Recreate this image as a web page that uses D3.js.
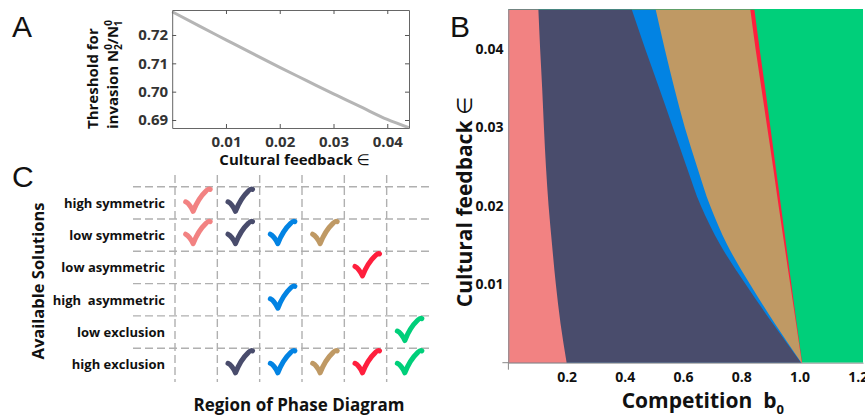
<!DOCTYPE html>
<html>
<head>
<meta charset="utf-8">
<script src="https://cdn.jsdelivr.net/npm/d3@7"></script>
<style>
body{margin:0;background:#fff;}
text{font-family:"Open Sans","DejaVu Sans",sans-serif;}
</style>
</head>
<body>
<div id="chart"></div>
<script>
// ---- panel A : invasion threshold vs cultural feedback
var epsA = [0, 0.005, 0.01, 0.015, 0.02, 0.025, 0.03, 0.035, 0.04, 0.044];
var thresholdA = [0.7282, 0.7232, 0.7183, 0.7134, 0.7086, 0.7039, 0.6992, 0.6947, 0.6902, 0.6873];
var ticksAx = [0.01, 0.02, 0.03, 0.04];
var ticksAy = [0.69, 0.70, 0.71, 0.72];

// ---- panel B : phase diagram, boundary b0 for each eps
var epsB  = [0, 0.005, 0.01, 0.015, 0.02, 0.025, 0.03, 0.035, 0.04, 0.045];
var bPink = [0.200, 0.179, 0.163, 0.150, 0.138, 0.129, 0.122, 0.116, 0.109, 0.103];
var bNavy = [1.005, 0.908, 0.815, 0.728, 0.661, 0.612, 0.565, 0.518, 0.470, 0.424];
var bBlue = [1.006, 0.915, 0.830, 0.752, 0.693, 0.648, 0.606, 0.570, 0.537, 0.506];
var bTan  = [1.008, 0.988, 0.968, 0.948, 0.928, 0.909, 0.889, 0.869, 0.849, 0.831];
var bRed  = [1.009, 0.990, 0.972, 0.954, 0.936, 0.918, 0.900, 0.882, 0.863, 0.845];
var ticksBx = [0.2, 0.4, 0.6, 0.8, 1.0, 1.2];
var ticksBy = [0.01, 0.02, 0.03, 0.04];

// ---- panel C : available solutions per region
var solutions = ["high symmetric", "low symmetric", "low asymmetric", "high  asymmetric", "low exclusion", "high exclusion"];
var regionColors = ["#f28282", "#494c6c", "#0283e3", "#bf9964", "#ff1f3d", "#00cf7a"];
var checks = [
  [1,1,0,0,0,0],
  [1,1,1,1,0,0],
  [0,0,0,0,1,0],
  [0,0,1,0,0,0],
  [0,0,0,0,0,1],
  [0,1,1,1,1,1]
];

var svg = d3.select("#chart").append("svg")
  .attr("width", 865).attr("height", 420)
  .style("background", "#fff");

// panel letters
svg.selectAll(".letter")
  .data([["A",12,37],["B",450,37],["C",12,187]])
  .enter().append("text")
  .attr("x", function(d){return d[1];})
  .attr("y", function(d){return d[2];})
  .style("font-family", "'Liberation Sans', Arial, sans-serif")
  .style("font-size", "30px")
  .attr("fill", "#111")
  .text(function(d){return d[0];});

/*********************
 * panel A
 **********************/
var xA = d3.scaleLinear().domain([0, 0.04404]).range([172.2, 409]);
var yA = d3.scaleLinear().domain([0.68718, 0.72882]).range([128, 10]);

var gA = svg.append("g").attr("class", "panelA");

gA.append("path")
  .datum(epsA.map(function(e,i){return [e, thresholdA[i]];}))
  .attr("fill", "none")
  .attr("stroke", "#b5b5b5")
  .attr("stroke-width", 3)
  .attr("d", d3.line()
    .x(function(d){return xA(d[0]);})
    .y(function(d){return yA(d[1]);})
    .curve(d3.curveMonotoneX));

var axA = [
  [d3.axisBottom(xA).tickValues(ticksAx).tickSize(-4).tickPadding(8).tickFormat(d3.format(".2f")), "translate(0,128)"],
  [d3.axisLeft(yA).tickValues(ticksAy).tickSize(-4).tickPadding(4).tickFormat(d3.format(".2f")), "translate(172.2,0)"],
  [d3.axisTop(xA).tickValues(ticksAx).tickSize(-4).tickFormat(""), "translate(0,10)"],
  [d3.axisRight(yA).tickValues(ticksAy).tickSize(-4).tickFormat(""), "translate(409,0)"]
];
axA.forEach(function(a){
  var g = gA.append("g").attr("transform", a[1]).call(a[0].tickSizeOuter(0));
  g.select(".domain").attr("stroke", "#666");
  g.selectAll(".tick line").attr("stroke", "#555");
  g.selectAll("text")
    .style("font-family", "'Open Sans', sans-serif")
    .style("font-size", "15px")
    .style("font-weight", "bold")
    .attr("fill", "#333");
});

gA.append("text")
  .attr("x", 294.5).attr("y", 165)
  .attr("text-anchor", "middle")
  .style("font-size", "15px").style("font-weight", "bold")
  .attr("fill", "#111")
  .text("Cultural feedback ")
  .append("tspan").style("font-weight", "normal").style("font-family", "'DejaVu Sans', sans-serif").text("\u2208");

gA.append("text")
  .attr("transform", "translate(98,129) rotate(-90)")
  .style("font-size", "15px").style("font-weight", "bold")
  .attr("fill", "#111")
  .text("Threshold for");

var lab2 = gA.append("text")
  .attr("transform", "translate(117.5,129) rotate(-90)")
  .style("font-size", "15px").style("font-weight", "bold")
  .attr("fill", "#111");
lab2.append("tspan").text("invasion N");
lab2.append("tspan").attr("dy", -6).style("font-size", "10px").text("0");
lab2.append("tspan").attr("dx", -6).attr("dy", 10).style("font-size", "10px").text("2");
lab2.append("tspan").attr("dy", -4).text("/N");
lab2.append("tspan").attr("dy", -6).style("font-size", "10px").text("0");
lab2.append("tspan").attr("dx", -6).attr("dy", 10).style("font-size", "10px").text("1");

/*********************
 * panel B
 **********************/
var xB = d3.scaleLinear().domain([0, 1.218]).range([508.4, 863]);
var yB = d3.scaleLinear().domain([0, 0.0451]).range([362.7, 9]);

var gB = svg.append("g").attr("class", "panelB");

// green background, then each region from the left edge on top (no seams)
gB.append("rect")
  .attr("x", xB(0)).attr("y", yB(0.0451))
  .attr("width", xB(1.218) - xB(0)).attr("height", yB(0) - yB(0.0451))
  .attr("fill", regionColors[5]);

var layers = [[bRed, regionColors[4]], [bTan, regionColors[3]], [bBlue, regionColors[2]], [bNavy, regionColors[1]], [bPink, regionColors[0]]];
var areaB = d3.area()
  .y(function(d){return yB(d[0]);})
  .x0(xB(0))
  .x1(function(d){return xB(d[1]);})
  .curve(d3.curveMonotoneY);

gB.selectAll(".region")
  .data(layers)
  .enter().append("path")
  .attr("class", "region")
  .attr("fill", function(d){return d[1];})
  .attr("d", function(d){
    return areaB(epsB.map(function(e,i){return [e, d[0][i]];}));
  });

var axBx = gB.append("g").attr("transform", "translate(0,362.7)")
  .call(d3.axisBottom(xB).tickValues(ticksBx).tickSize(0).tickSizeOuter(0).tickPadding(9).tickFormat(d3.format(".1f")));
var axBy = gB.append("g").attr("transform", "translate(508.4,0)")
  .call(d3.axisLeft(yB).tickValues(ticksBy).tickSize(0).tickSizeOuter(0).tickPadding(5).tickFormat(d3.format(".2f")));
[axBx, axBy].forEach(function(g){
  g.select(".domain").attr("stroke", "#999").attr("stroke-width", 1);
  g.selectAll("text")
    .style("font-family", "'Open Sans', sans-serif")
    .style("font-size", "14px")
    .style("font-weight", "bold")
    .attr("fill", "#111");
});
// corner ticks at origin
gB.append("path")
  .attr("stroke", "#888").attr("fill", "none")
  .attr("d", "M" + (xB(0) - 6) + "," + yB(0) + "H" + xB(0) + "M" + xB(0) + "," + yB(0) + "V" + (yB(0) + 7));

var xlabB = gB.append("text")
  .attr("x", 621.7).attr("y", 407.5)
  .style("font-size", "21px").style("font-weight", "bold")
  .attr("fill", "#111")
  .attr("xml:space", "preserve");
xlabB.append("tspan").text("Competition\u00a0\u00a0b");
xlabB.append("tspan").attr("dy", 6).style("font-size", "13px").text("0");

gB.append("text")
  .attr("transform", "translate(472,202) rotate(-90)")
  .attr("text-anchor", "middle")
  .style("font-size", "21px").style("font-weight", "bold")
  .attr("fill", "#111")
  .text("Cultural feedback ")
  .append("tspan").style("font-weight", "normal").style("font-family", "'DejaVu Sans', sans-serif").text("\u2208");

/*********************
 * panel C
 **********************/
var xC = d3.scaleBand().domain(d3.range(6)).range([175, 429]);
var yC = d3.scaleBand().domain(d3.range(6)).range([186.7, 380.5]);

var gC = svg.append("g").attr("class", "panelC");

gC.selectAll(".hline")
  .data(d3.range(6))
  .enter().append("line")
  .attr("x1", 133).attr("x2", 430)
  .attr("y1", function(d){return yC(d);})
  .attr("y2", function(d){return yC(d);})
  .attr("stroke", "#b0b0b0").attr("stroke-width", 1.4)
  .attr("stroke-dasharray", "8,4");

gC.selectAll(".vline")
  .data(d3.range(6))
  .enter().append("line")
  .attr("y1", 175).attr("y2", 382)
  .attr("x1", function(d){return xC(d);})
  .attr("x2", function(d){return xC(d);})
  .attr("stroke", "#b0b0b0").attr("stroke-width", 1.4)
  .attr("stroke-dasharray", "8,4");

gC.selectAll(".rowlab")
  .data(solutions)
  .enter().append("text")
  .attr("x", 165)
  .attr("y", function(d,i){return yC(i) + yC.bandwidth()/2 + 5;})
  .attr("text-anchor", "end")
  .attr("xml:space", "preserve")
  .style("font-size", "13px").style("font-weight", "bold")
  .attr("fill", "#111")
  .text(function(d){return d;});

var cells = [];
checks.forEach(function(row, r){
  row.forEach(function(v, c){ if(v) cells.push({r:r, c:c}); });
});

// hand-drawn tick glyph, relative to cell centre
var checkShape = "M-10.5,0 Q-6.5,2 -3,9.5 Q2,-3.5 10,-11 Q12.5,-13.5 14,-12.5";
gC.selectAll(".check")
  .data(cells)
  .enter().append("path")
  .attr("class", "check")
  .attr("transform", function(d){
    return "translate(" + (xC(d.c) + xC.bandwidth()/2) + "," + (yC(d.r) + yC.bandwidth()/2 - 1) + ")";
  })
  .attr("d", checkShape)
  .attr("fill", "none")
  .attr("stroke", function(d){return regionColors[d.c];})
  .attr("stroke-width", 5)
  .attr("stroke-linecap", "round")
  .attr("stroke-linejoin", "round");

gC.append("text")
  .attr("transform", "translate(44,281) rotate(-90)")
  .attr("text-anchor", "middle")
  .style("font-size", "16.5px").style("font-weight", "bold")
  .attr("fill", "#111")
  .text("Available Solutions");

gC.append("text")
  .attr("x", 299).attr("y", 410.5)
  .attr("text-anchor", "middle")
  .style("font-size", "17px").style("font-weight", "bold")
  .attr("fill", "#111")
  .text("Region of Phase Diagram");
</script>
</body>
</html>
